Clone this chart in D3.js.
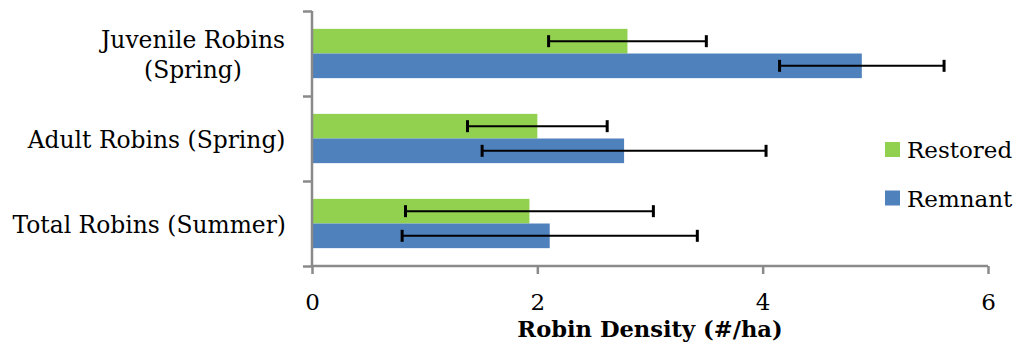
<!DOCTYPE html>
<html><head><meta charset="utf-8">
<script src="https://cdn.jsdelivr.net/npm/d3@7"></script>
<style>body{margin:0;background:#fff}svg{display:block}</style>
</head><body>
<svg id="c" width="1021" height="347"></svg>
<script>
const categories = ["Juvenile Robins (Spring)", "Adult Robins (Spring)", "Total Robins (Summer)"];
const categoryLines = [["Juvenile Robins", "(Spring)"], ["Adult Robins (Spring)"], ["Total Robins (Summer)"]];
const seriesNames = ["Restored", "Remnant"];
const restored = [2.8, 2.0, 1.93];
const remnant = [4.88, 2.77, 2.11];
const restoredErr = [0.70, 0.62, 1.10];
const remnantErr = [0.73, 1.26, 1.31];
const xTicks = [0, 2, 4, 6];
const colors = ["#92D050", "#4F81BD"];

const svg = d3.select("#c");
const font = "'DejaVu Serif', serif";
const x = d3.scaleLinear().domain([0, 6]).range([312, 988]);
const y = d3.scaleBand().domain(categories).range([11, 266]).paddingInner(0.42).paddingOuter(0.21);
const ySub = d3.scaleBand().domain(seriesNames).range([0, y.bandwidth()]);

const series = [restored, remnant];
const errs = [restoredErr, remnantErr];
const data = [];
categories.forEach((c, i) => seriesNames.forEach((s, j) => data.push({c, s, v: series[j][i], e: errs[j][i], col: colors[j]})));

svg.append("g").selectAll("rect").data(data).join("rect")
  .attr("x", x(0)).attr("y", d => y(d.c) + ySub(d.s))
  .attr("width", d => x(d.v) - x(0)).attr("height", ySub.bandwidth())
  .attr("fill", d => d.col);

// axes
const axisColor = "#8a8a8a";
const xAxis = svg.append("g").attr("transform", "translate(0,266)")
  .call(d3.axisBottom(x).tickValues(xTicks).tickSize(8).tickFormat(d3.format("d")));
xAxis.select(".domain").attr("d", `M${x(0)},0H${x(6)}`).attr("stroke", axisColor).attr("stroke-width", 2.5);
xAxis.selectAll(".tick line").attr("stroke", axisColor).attr("stroke-width", 2.5);
xAxis.selectAll(".tick text").attr("font-family", font).attr("font-size", 23).attr("fill", "#000")
  .attr("y", 44).attr("dy", null);

const yTickScale = d3.scaleLinear().domain([0, 3]).range([11, 266]);
const yAxis = svg.append("g").attr("transform", `translate(${x(0)},0)`)
  .call(d3.axisLeft(yTickScale).tickValues([0, 1, 2, 3]).tickSize(9).tickFormat(""));
yAxis.select(".domain").attr("d", "M0,11V266").attr("stroke", axisColor).attr("stroke-width", 2.5);
yAxis.selectAll(".tick line").attr("stroke", axisColor).attr("stroke-width", 2.5);

// category labels
const lab = svg.append("g").attr("font-family", font).attr("font-size", 23.4).attr("text-anchor", "middle");
categories.forEach((c, i) => {
  const lines = categoryLines[i];
  const cy = y(c) + y.bandwidth() / 2;
  const t = lab.append("text").attr("y", cy - (lines.length - 1) * 15 + 9);
  lines.forEach((l, k) => t.append("tspan").attr("x", 0).attr("dy", k ? 30 : 0).text(l));
  const w = t.node().getBBox().width;
  t.selectAll("tspan").attr("x", 286 - w / 2);
});

// error bars
const eg = svg.append("g").attr("stroke", "#000").attr("stroke-width", 2);
data.forEach(d => {
  const cy = y(d.c) + ySub(d.s) + ySub.bandwidth() / 2;
  const x1 = x(d.v - d.e), x2 = x(d.v + d.e);
  eg.append("line").attr("x1", x1).attr("x2", x2).attr("y1", cy).attr("y2", cy);
  eg.append("line").attr("x1", x1).attr("x2", x1).attr("y1", cy - 6).attr("y2", cy + 6).attr("stroke-width", 3);
  eg.append("line").attr("x1", x2).attr("x2", x2).attr("y1", cy - 6).attr("y2", cy + 6).attr("stroke-width", 3);
});

// axis title
svg.append("text").attr("x", (x(0) + x(6)) / 2).attr("y", 337).attr("text-anchor", "middle")
  .attr("font-family", font).attr("font-weight", "bold").attr("font-size", 22.6).text("Robin Density (#/ha)");

// legend
const lg = svg.append("g");
seriesNames.forEach((s, i) => {
  const ly = 142 + i * 48.5;
  lg.append("rect").attr("x", 885).attr("y", ly).attr("width", 15).attr("height", 15).attr("fill", colors[i]);
  lg.append("text").attr("x", 907).attr("y", ly + 16).attr("font-family", font).attr("font-size", 23).text(s);
});
</script>
</body></html>
